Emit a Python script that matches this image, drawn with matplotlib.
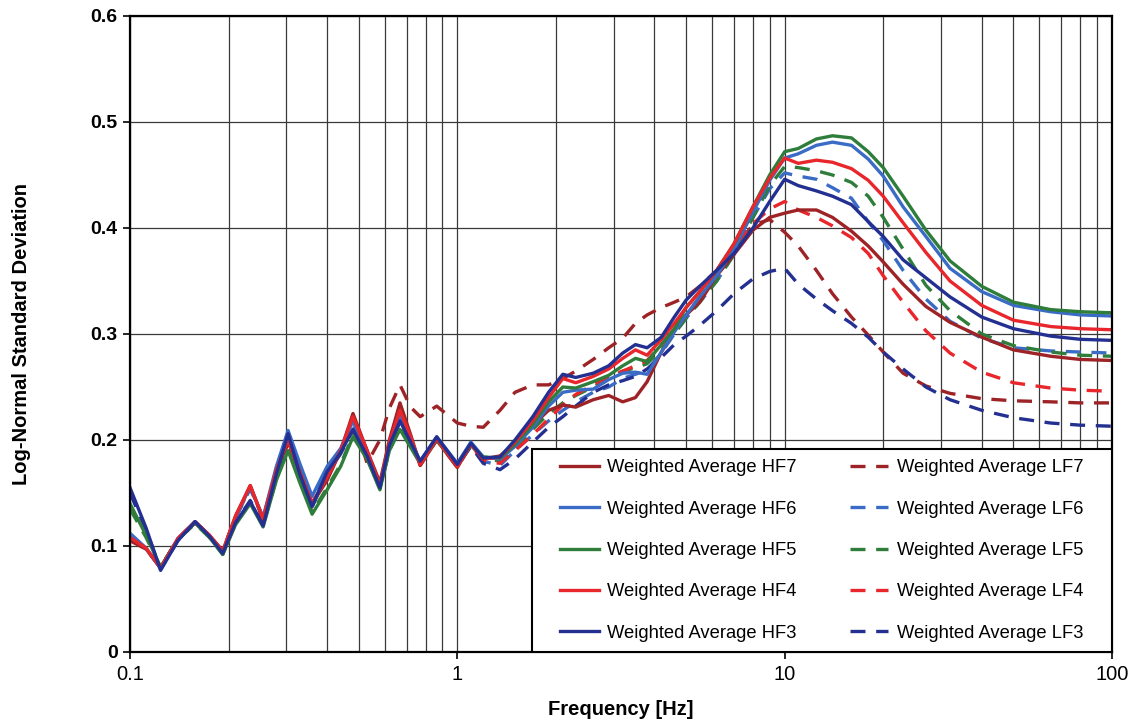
import numpy as np
import matplotlib
matplotlib.use('Agg')
import matplotlib.pyplot as plt
from matplotlib.patches import Rectangle
from matplotlib.ticker import LogLocator, FixedLocator, NullFormatter, FuncFormatter

plt.rcParams['font.family'] = ['Liberation Sans', 'DejaVu Sans']

# frequency points [Hz]
freq = [0.100, 0.112, 0.124, 0.14, 0.158, 0.175, 0.192, 0.21, 0.233, 0.255,
        0.28, 0.304, 0.33, 0.36, 0.40, 0.44, 0.48, 0.53, 0.58, 0.62,
        0.668, 0.72, 0.77, 0.865, 1.0, 1.1, 1.2, 1.35,
        1.5, 1.7, 1.9, 2.1, 2.3, 2.6, 2.9, 3.2, 3.5, 3.8, 4.2, 4.6,
        5.0, 5.5, 6.2, 7.0, 8.0, 9.0, 10, 11, 12.5, 14, 16, 18, 20, 23,
        27, 32, 40, 50, 65, 80, 100]

hf7 = [0.105, 0.097, 0.080, 0.106, 0.122, 0.110, 0.095, 0.128, 0.157, 0.125,
       0.172, 0.198, 0.172, 0.140, 0.162, 0.190, 0.225, 0.190, 0.160, 0.200,
       0.235, 0.205, 0.176, 0.200, 0.174, 0.196, 0.182, 0.185,
       0.197, 0.214, 0.228, 0.233, 0.231, 0.238, 0.242, 0.236, 0.240, 0.255, 0.283, 0.303,
       0.318, 0.330, 0.355, 0.375, 0.398, 0.410, 0.414, 0.417, 0.417, 0.410, 0.397,
       0.383, 0.368, 0.347, 0.326, 0.311, 0.297, 0.285, 0.279, 0.276, 0.275]

hf6 = [0.112, 0.098, 0.079, 0.107, 0.123, 0.109, 0.094, 0.127, 0.156, 0.127,
       0.175, 0.209, 0.178, 0.147, 0.175, 0.192, 0.218, 0.188, 0.157, 0.195,
       0.222, 0.200, 0.180, 0.203, 0.178, 0.198, 0.184, 0.182,
       0.194, 0.212, 0.232, 0.245, 0.247, 0.248, 0.257, 0.263, 0.264, 0.262, 0.283, 0.302,
       0.318, 0.335, 0.355, 0.380, 0.415, 0.445, 0.466, 0.470, 0.478, 0.481, 0.478,
       0.465, 0.449, 0.420, 0.392, 0.362, 0.340, 0.327, 0.321, 0.318, 0.317]

hf5 = [0.140, 0.110, 0.080, 0.106, 0.122, 0.108, 0.092, 0.120, 0.140, 0.118,
       0.162, 0.190, 0.160, 0.130, 0.153, 0.175, 0.203, 0.182, 0.153, 0.190,
       0.210, 0.193, 0.178, 0.200, 0.176, 0.195, 0.184, 0.183,
       0.196, 0.215, 0.236, 0.250, 0.249, 0.255, 0.261, 0.270, 0.277, 0.274, 0.290, 0.305,
       0.325, 0.340, 0.360, 0.385, 0.420, 0.450, 0.472, 0.475, 0.484, 0.487, 0.485,
       0.472, 0.457, 0.430, 0.398, 0.369, 0.345, 0.330, 0.323, 0.321, 0.320]

hf4 = [0.108, 0.098, 0.079, 0.107, 0.123, 0.110, 0.095, 0.128, 0.157, 0.126,
       0.172, 0.200, 0.170, 0.140, 0.165, 0.190, 0.222, 0.190, 0.157, 0.198,
       0.228, 0.203, 0.177, 0.201, 0.175, 0.196, 0.182, 0.184,
       0.198, 0.218, 0.240, 0.258, 0.254, 0.260, 0.267, 0.277, 0.285, 0.280, 0.295, 0.310,
       0.325, 0.340, 0.360, 0.385, 0.420, 0.447, 0.466, 0.461, 0.464, 0.462, 0.456,
       0.445, 0.430, 0.405, 0.377, 0.350, 0.327, 0.313, 0.307, 0.305, 0.304]

hf3 = [0.155, 0.117, 0.077, 0.105, 0.123, 0.109, 0.093, 0.122, 0.142, 0.119,
       0.168, 0.206, 0.168, 0.137, 0.170, 0.188, 0.210, 0.185, 0.155, 0.195,
       0.218, 0.198, 0.180, 0.203, 0.177, 0.197, 0.183, 0.184,
       0.200, 0.222, 0.245, 0.262, 0.259, 0.263, 0.270, 0.282, 0.290, 0.287, 0.297, 0.316,
       0.332, 0.345, 0.360, 0.376, 0.400, 0.425, 0.446, 0.440, 0.435, 0.430, 0.422,
       0.406, 0.392, 0.370, 0.353, 0.335, 0.316, 0.305, 0.298, 0.295, 0.294]

lf7 = [0.106, 0.097, 0.080, 0.107, 0.122, 0.110, 0.095, 0.127, 0.155, 0.126,
       0.170, 0.197, 0.170, 0.141, 0.163, 0.190, 0.222, 0.178, 0.200, 0.230,
       0.252, 0.231, 0.222, 0.232, 0.216, 0.213, 0.212, 0.228,
       0.245, 0.252, 0.252, 0.258, 0.265, 0.276, 0.287, 0.296, 0.310, 0.318, 0.325, 0.330,
       0.335, 0.345, 0.360, 0.380, 0.403, 0.408, 0.396, 0.383, 0.360, 0.338, 0.316,
       0.299, 0.283, 0.263, 0.251, 0.244, 0.239, 0.237, 0.236, 0.235, 0.235]

lf6 = [0.110, 0.097, 0.079, 0.106, 0.122, 0.109, 0.094, 0.126, 0.154, 0.126,
       0.172, 0.205, 0.175, 0.145, 0.172, 0.190, 0.215, 0.186, 0.156, 0.193,
       0.220, 0.198, 0.178, 0.200, 0.176, 0.194, 0.180, 0.176,
       0.190, 0.205, 0.218, 0.228, 0.236, 0.245, 0.250, 0.258, 0.262, 0.266, 0.282, 0.300,
       0.315, 0.330, 0.350, 0.375, 0.410, 0.437, 0.452, 0.449, 0.446, 0.438, 0.428,
       0.406, 0.388, 0.360, 0.333, 0.312, 0.296, 0.287, 0.284, 0.283, 0.282]

lf5 = [0.135, 0.108, 0.080, 0.106, 0.121, 0.108, 0.092, 0.121, 0.142, 0.119,
       0.163, 0.192, 0.162, 0.132, 0.155, 0.177, 0.205, 0.183, 0.154, 0.190,
       0.212, 0.194, 0.178, 0.200, 0.176, 0.195, 0.183, 0.180,
       0.192, 0.210, 0.225, 0.235, 0.242, 0.250, 0.258, 0.265, 0.268, 0.272, 0.285, 0.300,
       0.315, 0.330, 0.350, 0.375, 0.410, 0.440, 0.458, 0.457, 0.454, 0.450, 0.443,
       0.430, 0.410, 0.380, 0.346, 0.322, 0.300, 0.289, 0.283, 0.280, 0.279]

lf4 = [0.107, 0.098, 0.079, 0.107, 0.123, 0.110, 0.095, 0.128, 0.156, 0.126,
       0.171, 0.200, 0.170, 0.140, 0.163, 0.190, 0.220, 0.190, 0.157, 0.197,
       0.226, 0.202, 0.176, 0.200, 0.174, 0.195, 0.180, 0.178,
       0.190, 0.205, 0.220, 0.233, 0.243, 0.252, 0.260, 0.265, 0.270, 0.275, 0.290, 0.305,
       0.318, 0.335, 0.360, 0.383, 0.404, 0.418, 0.425, 0.417, 0.410, 0.402, 0.391,
       0.376, 0.355, 0.330, 0.303, 0.282, 0.264, 0.254, 0.249, 0.247, 0.246]

lf3 = [0.150, 0.115, 0.078, 0.105, 0.122, 0.109, 0.093, 0.122, 0.143, 0.120,
       0.167, 0.203, 0.167, 0.137, 0.168, 0.187, 0.210, 0.185, 0.155, 0.194,
       0.217, 0.197, 0.179, 0.201, 0.176, 0.194, 0.178, 0.172,
       0.182, 0.198, 0.212, 0.222, 0.232, 0.245, 0.252, 0.256, 0.260, 0.267, 0.278, 0.290,
       0.298, 0.308, 0.322, 0.338, 0.352, 0.359, 0.362, 0.347, 0.333, 0.322, 0.310,
       0.297, 0.283, 0.267, 0.250, 0.238, 0.228, 0.221, 0.216, 0.214, 0.213]

labels_hf = ['Weighted Average HF7', 'Weighted Average HF6', 'Weighted Average HF5',
             'Weighted Average HF4', 'Weighted Average HF3']
labels_lf = ['Weighted Average LF7', 'Weighted Average LF6', 'Weighted Average LF5',
             'Weighted Average LF4', 'Weighted Average LF3']
colors = ['#9e2326', '#3a6cc6', '#2e7d3a', '#e8262b', '#243091']

fig = plt.figure(figsize=(11.29, 7.23), dpi=100)
ax = fig.add_axes([130 / 1129, 71 / 723, 982 / 1129, 636 / 723])

# dashed LF first, solid HF drawn on top
lf_lines = []
for vals, lab, c in zip([lf7, lf6, lf5, lf4, lf3], labels_lf, colors):
    ln, = ax.plot(freq, vals, color=c, lw=2.4, dashes=(4.5, 3.2), label=lab,
                  solid_joinstyle='round', dash_joinstyle='round')
    lf_lines.append(ln)
hf_lines = []
for vals, lab, c in zip([hf7, hf6, hf5, hf4, hf3], labels_hf, colors):
    ln, = ax.plot(freq, vals, color=c, lw=2.4, label=lab, solid_joinstyle='round')
    hf_lines.append(ln)

ax.set_xscale('log')
ax.set_xlim(0.1, 100)
ax.set_ylim(0, 0.6)

ax.xaxis.set_major_locator(FixedLocator([0.1, 1, 10, 100]))
ax.xaxis.set_major_formatter(FuncFormatter(lambda v, p: '{:g}'.format(v)))
ax.xaxis.set_minor_locator(LogLocator(base=10, subs=np.arange(2, 10)))
ax.xaxis.set_minor_formatter(NullFormatter())
ax.set_yticks(np.arange(0, 0.61, 0.1))
ax.yaxis.set_major_formatter(FuncFormatter(lambda v, p: '0' if abs(v) < 1e-9 else '{:.1f}'.format(v)))

ax.grid(which='both', axis='x', color='#3a3a3a', lw=0.9)
ax.grid(which='major', axis='y', color='#3a3a3a', lw=0.9)
ax.set_axisbelow(True)
ax.tick_params(which='minor', length=0)
ax.tick_params(which='major', direction='out', length=5, width=1.2, pad=4)
ax.tick_params(axis='x', labelsize=14.5)
ax.tick_params(axis='y', labelsize=14)
for t in ax.get_yticklabels():
    t.set_fontweight('bold')
for s in ax.spines.values():
    s.set_linewidth(1.6)
    s.set_color('black')

ax.set_xlabel('Frequency [Hz]', fontsize=14.5, fontweight='bold', labelpad=12)
ax.set_ylabel('Log-Normal Standard Deviation', fontsize=14.5, fontweight='bold', labelpad=43)

# legend box sits in the lower right corner of the plot area
box = (0.409, 0.0, 0.591, 0.319)
ax.add_patch(Rectangle(box[:2], box[2], box[3], transform=ax.transAxes,
                       facecolor='white', edgecolor='black', lw=1.5, zorder=4))
leg = ax.legend(handles=hf_lines + lf_lines, ncol=2, loc='center',
                bbox_to_anchor=box, borderaxespad=0, frameon=False,
                fontsize=13.2, handlelength=2.1, handletextpad=0.45,
                labelspacing=1.33, columnspacing=2.9, borderpad=0)
leg.set_zorder(5)

fig.savefig('out.png', dpi=100)
